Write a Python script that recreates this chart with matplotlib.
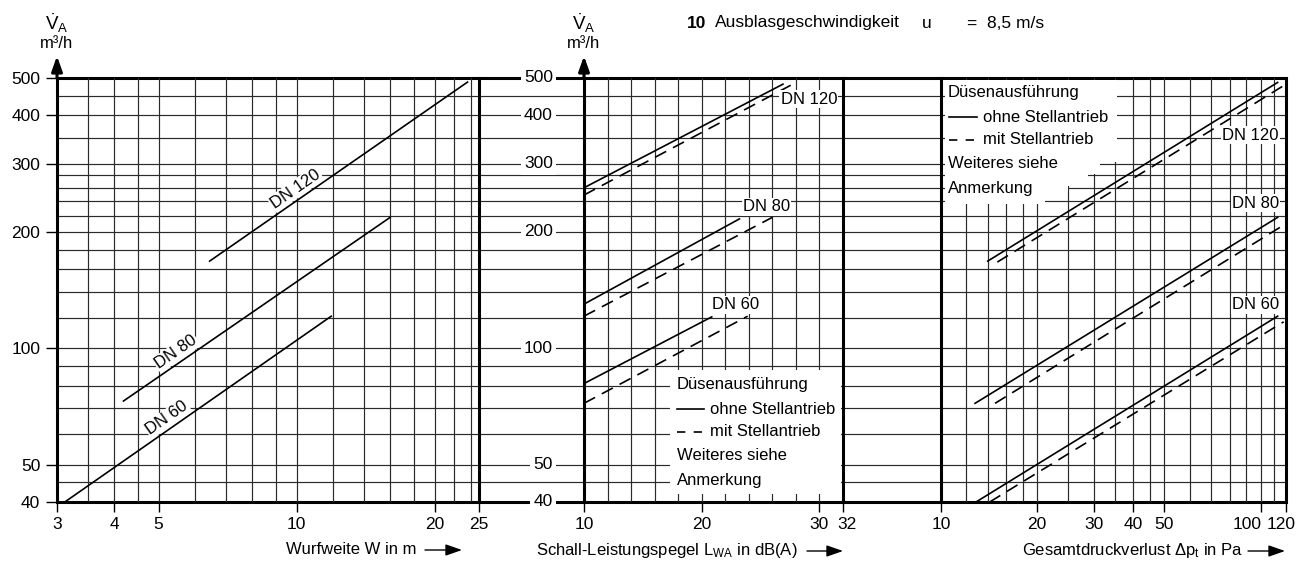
import matplotlib
matplotlib.use('Agg')
import numpy as np
import matplotlib.pyplot as plt
from matplotlib.patches import Polygon
from matplotlib.lines import Line2D
from matplotlib.ticker import NullLocator
from matplotlib.transforms import ScaledTranslation

plt.rcParams['font.family'] = ['Liberation Sans', 'DejaVu Sans']
plt.rcParams['mathtext.fontset'] = 'custom'
plt.rcParams['mathtext.rm'] = 'Liberation Sans'
plt.rcParams['mathtext.it'] = 'Liberation Sans:italic'
plt.rcParams['mathtext.bf'] = 'Liberation Sans:bold'
plt.rcParams['lines.scale_dashes'] = False

# ---------------- data ----------------
flow_ticks = [40, 50, 100, 200, 300, 400, 500]
flow_grid = [40, 45, 50, 60, 70, 80, 90, 100, 120, 140, 160, 180, 200,
             220, 240, 260, 280, 300, 350, 400, 450, 500]

# Wurfweite (left panel)
wurf_ticks = [3, 4, 5, 10, 20, 25]
wurf_grid = [3.5, 4, 4.5, 5, 6, 7, 8, 9, 10, 12, 14, 16, 18, 20, 22, 24]
wurf_dn60_x = [3.12, 11.9]
wurf_dn60_y = [40, 121]
wurf_dn80_x = [4.19, 16.0]
wurf_dn80_y = [73, 218]
wurf_dn120_x = [6.46, 23.6]
wurf_dn120_y = [168, 488]

# Schall-Leistungspegel (middle panel)
schall_ticks = [10, 20, 30, 32]
schall_grid = [12, 14, 16, 18, 20, 22, 24, 26, 28, 30]
schall_dn60_x = [10, 20.85];  schall_dn60_y = [81, 120.5]
schall_dn60m_x = [10, 23.9];  schall_dn60m_y = [72, 121]
schall_dn80_x = [10, 23.2];   schall_dn80_y = [130, 216]
schall_dn80m_x = [10, 26.0];  schall_dn80m_y = [121, 218]
schall_dn120_x = [10, 26.9];  schall_dn120_y = [260, 482]
schall_dn120m_x = [10, 27.9]; schall_dn120m_y = [249, 485]

# Gesamtdruckverlust (right panel)
druck_ticks = [10, 20, 30, 40, 50, 100, 120]
druck_grid = [12, 14, 16, 18, 20, 25, 30, 35, 40, 45, 50, 60, 70, 80, 90, 100, 110]
druck_dn60_x = [12.87, 113];  druck_dn60_y = [40, 121]
druck_dn60m_x = [14.2, 118];  druck_dn60m_y = [40, 117]
druck_dn80_x = [12.78, 113];  druck_dn80_y = [72, 218]
druck_dn80m_x = [14.76, 120]; druck_dn80m_y = [72, 210]
druck_dn120_x = [14.0, 113];  druck_dn120_y = [168, 487]
druck_dn120m_x = [15.0, 120]; druck_dn120m_y = [167, 482]

legend_rows = ['Düsenausführung', 'ohne Stellantrieb', 'mit Stellantrieb',
               'Weiteres siehe', 'Anmerkung']

# ---------------- layout ----------------
W, H = 1314, 567
TOP, BOT = 78, 502
fig = plt.figure(figsize=(W / 100, H / 100), dpi=100)

GRID_C = '#2a2a2a'
GRID_LW = 0.85
THICK = 2.2
LINE_LW = 1.2
DASH = (9, 5.5)
FS = 12
TFS = 12.5


def rect(x0, x1, y0=TOP, y1=BOT):
    return [x0 / W, 1 - y1 / H, (x1 - x0) / W, (y1 - y0) / H]


# background axes with horizontal grid over the full width
bg = fig.add_axes(rect(57, 1286))
bg.set_yscale('log')
bg.set_ylim(40, 500)
bg.set_xlim(0, 1)
bg.axis('off')
for v in flow_grid:
    if v in (40, 500):
        bg.axhline(v, color='k', lw=THICK, clip_on=False, solid_capstyle='butt')
    else:
        bg.axhline(v, color=GRID_C, lw=GRID_LW)


def make_panel(x0, x1, xscale, xlim, grid, ticks):
    ax = fig.add_axes(rect(x0, x1))
    ax.patch.set_visible(False)
    ax.set_xscale(xscale)
    ax.set_yscale('log')
    ax.set_xlim(*xlim)
    ax.set_ylim(40, 500)
    for g in grid:
        ax.axvline(g, color=GRID_C, lw=GRID_LW, zorder=1)
    ax.spines['top'].set_visible(False)
    ax.spines['bottom'].set_visible(False)
    ax.spines['left'].set_linewidth(THICK)
    ax.spines['right'].set_linewidth(THICK)
    ax.set_xticks(ticks)
    ax.set_xticklabels([str(t) for t in ticks])
    ax.xaxis.set_minor_locator(NullLocator())
    ax.yaxis.set_minor_locator(NullLocator())
    ax.tick_params(axis='x', direction='out', length=7, width=1, pad=4,
                   labelsize=TFS)
    ax.set_yticks([])
    return ax


ax_w = make_panel(57, 479, 'log', (3, 25), wurf_grid, wurf_ticks)
ax_s = make_panel(584, 843, 'linear', (10, 32), schall_grid, schall_ticks)
ax_p = make_panel(941, 1286, 'log', (10, 120), druck_grid, druck_ticks)


def shift_label(ax, idx, dx_px):
    lab = ax.get_xticklabels()[idx]
    lab.set_transform(lab.get_transform() +
                      ScaledTranslation(dx_px / 100, 0, fig.dpi_scale_trans))


shift_label(ax_s, 3, 4)      # "32"
shift_label(ax_p, 5, -14)    # "100"
shift_label(ax_p, 6, -5)     # "120"

# left y ticks
ax_w.set_yticks(flow_ticks)
ax_w.set_yticklabels([str(t) for t in flow_ticks])
ax_w.yaxis.set_minor_locator(NullLocator())
ax_w.tick_params(axis='y', direction='out', length=8, width=1, pad=4,
                 labelsize=TFS, right=False)

# y tick labels in the gap before the middle panel
for v in flow_ticks:
    ax_s.annotate(str(v), xy=(0, v), xycoords=('axes fraction', 'data'),
                  xytext=(-31, 0), textcoords='offset pixels',
                  ha='right', va='center', fontsize=TFS, annotation_clip=False,
                  bbox=dict(fc='white', ec='none', pad=2.5), zorder=6)

# y axis arrows and labels
for ax, xc in ((ax_w, 57), (ax_s, 584)):
    ax.annotate('', xy=(0, 1 + 22 / 424), xytext=(0, 1.0), xycoords='axes fraction',
                annotation_clip=False,
                arrowprops=dict(arrowstyle='-|>,head_length=0.9,head_width=0.32',
                                lw=THICK, color='k', shrinkA=0, shrinkB=0,
                                mutation_scale=10))
    fig.text(xc / W, 1 - 23 / H, r'$\dot{\mathrm{V}}_{\mathrm{A}}$', ha='center',
             va='center', fontsize=13.5)
    fig.text(xc / W, 1 - 44 / H, 'm³/h', ha='center', va='center', fontsize=FS)


# ---------------- left panel lines ----------------
def on_line(xs, ys, xa):
    return 10 ** np.interp(np.log10(xa), np.log10(xs), np.log10(ys))


def angle_of(ax, xs, ys):
    p = ax.transData.transform(np.column_stack([xs, ys]))
    return np.degrees(np.arctan2(p[1, 1] - p[0, 1], p[1, 0] - p[0, 0]))


for xs, ys, lab, xa in ((wurf_dn60_x, wurf_dn60_y, 'DN 60', 5.35),
                        (wurf_dn80_x, wurf_dn80_y, 'DN 80', 5.6),
                        (wurf_dn120_x, wurf_dn120_y, 'DN 120', 10.2)):
    ax_w.plot(xs, ys, color='k', lw=LINE_LW, zorder=3)
    ang = angle_of(ax_w, xs, ys)
    ax_w.annotate(lab, xy=(xa, on_line(xs, ys, xa)), xytext=(-5, 9),
                  textcoords='offset pixels', rotation=ang, rotation_mode='anchor',
                  ha='center', va='center', fontsize=FS, zorder=5,
                  bbox=dict(fc='white', ec='none', pad=0.8))

# ---------------- middle panel lines ----------------
for xs, ys in ((schall_dn60_x, schall_dn60_y), (schall_dn80_x, schall_dn80_y),
               (schall_dn120_x, schall_dn120_y)):
    ax_s.plot(xs, ys, color='k', lw=LINE_LW, zorder=3)
for xs, ys in ((schall_dn60m_x, schall_dn60m_y), (schall_dn80m_x, schall_dn80m_y),
               (schall_dn120m_x, schall_dn120m_y)):
    ax_s.plot(xs, ys, color='k', lw=LINE_LW, dashes=DASH, zorder=3)
for lab, x, y in (('DN 60', 22.9, 129.4), ('DN 80', 25.5, 232), ('DN 120', 29.1, 441)):
    ax_s.text(x, y, lab, ha='center', va='center', fontsize=FS, zorder=5,
              bbox=dict(fc='white', ec='none', pad=1.0))

# ---------------- right panel lines ----------------
for xs, ys in ((druck_dn60_x, druck_dn60_y), (druck_dn80_x, druck_dn80_y),
               (druck_dn120_x, druck_dn120_y)):
    ax_p.plot(xs, ys, color='k', lw=LINE_LW, zorder=3)
for xs, ys in ((druck_dn60m_x, druck_dn60m_y), (druck_dn80m_x, druck_dn80m_y),
               (druck_dn120m_x, druck_dn120m_y)):
    ax_p.plot(xs, ys, color='k', lw=LINE_LW, dashes=DASH, zorder=3)
for lab, x, y in (('DN 60', 96.4, 129.4), ('DN 80', 96.4, 237), ('DN 120', 93, 356)):
    ax_p.text(x, y, lab, ha='center', va='center', fontsize=FS, zorder=5,
              bbox=dict(fc='white', ec='none', pad=1.0))


# ---------------- legends ----------------
def px_to_ax(x0, x1, px, py):
    return ((px - x0) / (x1 - x0), (BOT - py) / (BOT - TOP))


def draw_legend(ax, x0, x1, patch_pts, rows_y, text_x, indent_x, line_x):
    poly = Polygon([px_to_ax(x0, x1, px, py) for px, py in patch_pts],
                   closed=True, transform=ax.transAxes, fc='white', ec='none',
                   zorder=4)
    ax.add_patch(poly)
    for i, (txt, py) in enumerate(zip(legend_rows, rows_y)):
        tx = indent_x if i in (1, 2) else text_x
        fx, fy = px_to_ax(x0, x1, tx, py)
        ax.text(fx, fy, txt, transform=ax.transAxes, ha='left', va='center',
                fontsize=FS, zorder=5)
    for i, style in ((1, 'solid'), (2, 'dash')):
        a = px_to_ax(x0, x1, line_x[0], rows_y[i])
        b = px_to_ax(x0, x1, line_x[1], rows_y[i])
        ln = Line2D([a[0], b[0]], [a[1], b[1]], transform=ax.transAxes,
                    color='k', lw=LINE_LW, zorder=5)
        if style == 'dash':
            ln.set_dashes((6, 6))
        ax.add_line(ln)


draw_legend(ax_s, 584, 843,
            [(670, 370), (841, 370), (841, 494), (670, 494)],
            [385, 409, 432, 456, 480], 677, 710, (677, 704))
draw_legend(ax_p, 941, 1286,
            [(945, 80), (1117, 80), (1117, 162), (1100, 162), (1100, 174),
             (1088, 174), (1088, 186), (1068, 186), (1068, 191), (1045, 191),
             (1045, 204), (945, 204)],
            [93, 117, 140, 164, 188], 948, 983, (949, 977))


# ---------------- axis titles with arrows ----------------
def xlabel(text, x_end, y, a0, a1):
    fig.text(x_end / W, 1 - y / H, text, ha='right', va='center', fontsize=FS)
    bg.annotate('', xy=(a1, H - y), xytext=(a0, H - y), xycoords='figure pixels',
                annotation_clip=False,
                arrowprops=dict(arrowstyle='-|>,head_length=1.0,head_width=0.35',
                                lw=1.0, color='k', shrinkA=0, shrinkB=0,
                                mutation_scale=10))


xlabel('Wurfweite W in m', 416, 550, 425, 462)
xlabel(r'Schall-Leistungspegel L$_{\mathrm{WA}}$ in dB(A)', 798, 551, 807, 843)
xlabel(r'Gesamtdruckverlust $\Delta$p$_{\mathrm{t}}$ in Pa', 1243, 551, 1248, 1285)

# ---------------- header ----------------
fig.text(687 / W, 1 - 23 / H, '10', ha='left', va='center', fontsize=12.5,
         fontweight='bold')
fig.text(715 / W, 1 - 23 / H, 'Ausblasgeschwindigkeit', ha='left', va='center',
         fontsize=12.5)
fig.text(922 / W, 1 - 23 / H, 'u', ha='left', va='center', fontsize=12.5)
fig.text(967 / W, 1 - 23 / H, '=  8,5 m/s', ha='left', va='center', fontsize=12.5)

fig.savefig('out.png', dpi=100)
